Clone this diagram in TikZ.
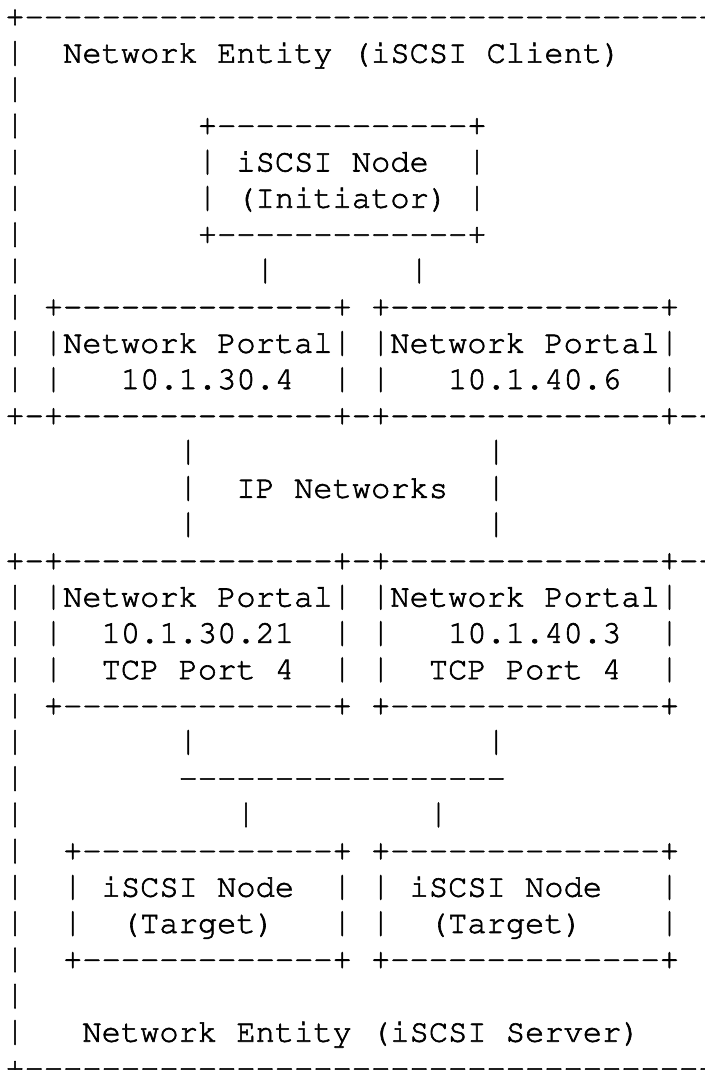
\documentclass[tikz,border=0pt]{standalone}
\usepackage[T1]{fontenc}
\usepackage{courier}
\usepackage{graphicx}
\newlength\cw
\newcount\hycnt
\newsavebox\vbbox
\newcommand\hy[1]{\hycnt#1\relax\loop\ifnum\hycnt>0 -\kern0pt\advance\hycnt by -1\relax\repeat}
\newcommand\s[1]{\hspace*{#1\cw}}
% vertical bar glyph, stretched to Courier New's extent (-0.23em .. 0.81em)
\newcommand\vb{\sbox\vbbox{\resizebox*{\cw}{1.04em}{|}}\raisebox{\dimexpr\dp\vbbox-0.23em\relax}{\usebox\vbbox}}
\newcommand\asciifont{\ttfamily\fontsize{16.04pt}{18pt}\selectfont\setlength\cw{0.6em}\spaceskip\cw\relax}
\makeatletter
\newcommand\heavytext{\pgfsys@invoke{2 Tr 0.3 w}}
\makeatother
\tikzset{
  asciirow/.style={anchor=base west, inner sep=0pt, outer sep=0pt, font={\asciifont}}
}
\begin{document}
\begin{tikzpicture}[x=0.5pt,y=-0.5pt]
\useasboundingbox (0,0) rectangle (705,1070);
\clip (0,0) rectangle (705,1070);
\heavytext
\def\xz{5.4}
\node[asciirow] (r1) at (\xz,26.44) {+\hy{40}};
\node[asciirow] (r2) at (\xz,62.70) {\vb\s{2}Network Entity (iSCSI Client)};
\node[asciirow] (r3) at (\xz,98.96) {\vb};
\node[asciirow] (r4) at (\xz,135.22) {\vb\s{9}+\hy{13}+};
\node[asciirow] (r5) at (\xz,171.48) {\vb\s{9}\vb\s{1}iSCSI Node\s{2}\vb};
\node[asciirow] (r6) at (\xz,207.74) {\vb\s{9}\vb\s{1}(Initiator)\s{1}\vb};
\node[asciirow] (r7) at (\xz,244.00) {\vb\s{9}+\hy{13}+};
\node[asciirow] (r8) at (\xz,280.26) {\vb\s{12}\vb\s{7}\vb};
\node[asciirow] (r9) at (\xz,316.52) {\vb\s{1}+\hy{14}+\s{1}+\hy{14}+};
\node[asciirow] (r10) at (\xz,352.78) {\vb\s{1}\vb Network Portal\vb\s{1}\vb Network Portal\vb};
\node[asciirow] (r11) at (\xz,389.04) {\vb\s{1}\vb\s{3}10.1.30.4\s{2}\vb\s{1}\vb\s{3}10.1.40.6\s{2}\vb};
\node[asciirow] (r12) at (\xz,425.30) {+\hy{1}+\hy{14}+\hy{1}+\hy{14}+\hy{5}};
\node[asciirow] (r13) at (\xz,461.56) {\s{9}\vb\s{15}\vb};
\node[asciirow] (r14) at (\xz,497.82) {\s{9}\vb\s{2}IP Networks\s{2}\vb};
\node[asciirow] (r15) at (\xz,534.08) {\s{9}\vb\s{15}\vb};
\node[asciirow] (r16) at (\xz,570.34) {+\hy{1}+\hy{14}+\hy{1}+\hy{14}+\hy{5}};
\node[asciirow] (r17) at (\xz,606.60) {\vb\s{1}\vb Network Portal\vb\s{1}\vb Network Portal\vb};
\node[asciirow] (r18) at (\xz,642.86) {\vb\s{1}\vb\s{2}10.1.30.21\s{2}\vb\s{1}\vb\s{3}10.1.40.3\s{2}\vb};
\node[asciirow] (r19) at (\xz,679.12) {\vb\s{1}\vb\s{2}TCP Port 4\s{2}\vb\s{1}\vb\s{2}TCP Port 4\s{2}\vb};
\node[asciirow] (r20) at (\xz,715.38) {\vb\s{1}+\hy{14}+\s{1}+\hy{14}+};
\node[asciirow] (r21) at (\xz,751.64) {\vb\s{8}\vb\s{15}\vb};
\node[asciirow] (r22) at (\xz,787.90) {\vb\s{8}\hy{17}};
\node[asciirow] (r23) at (\xz,824.16) {\vb\s{11}\vb\s{9}\vb};
\node[asciirow] (r24) at (\xz,860.42) {\vb\s{2}+\hy{13}+\s{1}+\hy{14}+};
\node[asciirow] (r25) at (\xz,896.68) {\vb\s{2}\vb\s{1}iSCSI Node\s{2}\vb\s{1}\vb\s{1}iSCSI Node\s{3}\vb};
\node[asciirow] (r26) at (\xz,932.94) {\vb\s{2}\vb\s{2}(Target)\s{3}\vb\s{1}\vb\s{2}(Target)\s{4}\vb};
\node[asciirow] (r27) at (\xz,969.20) {\vb\s{2}+\hy{13}+\s{1}+\hy{14}+};
\node[asciirow] (r28) at (\xz,1005.46) {\vb};
\node[asciirow] (r29) at (\xz,1041.72) {\vb\s{3}Network Entity (iSCSI Server)};
\node[asciirow] (r30) at (\xz,1077.98) {+\hy{40}};
\end{tikzpicture}
\end{document}
